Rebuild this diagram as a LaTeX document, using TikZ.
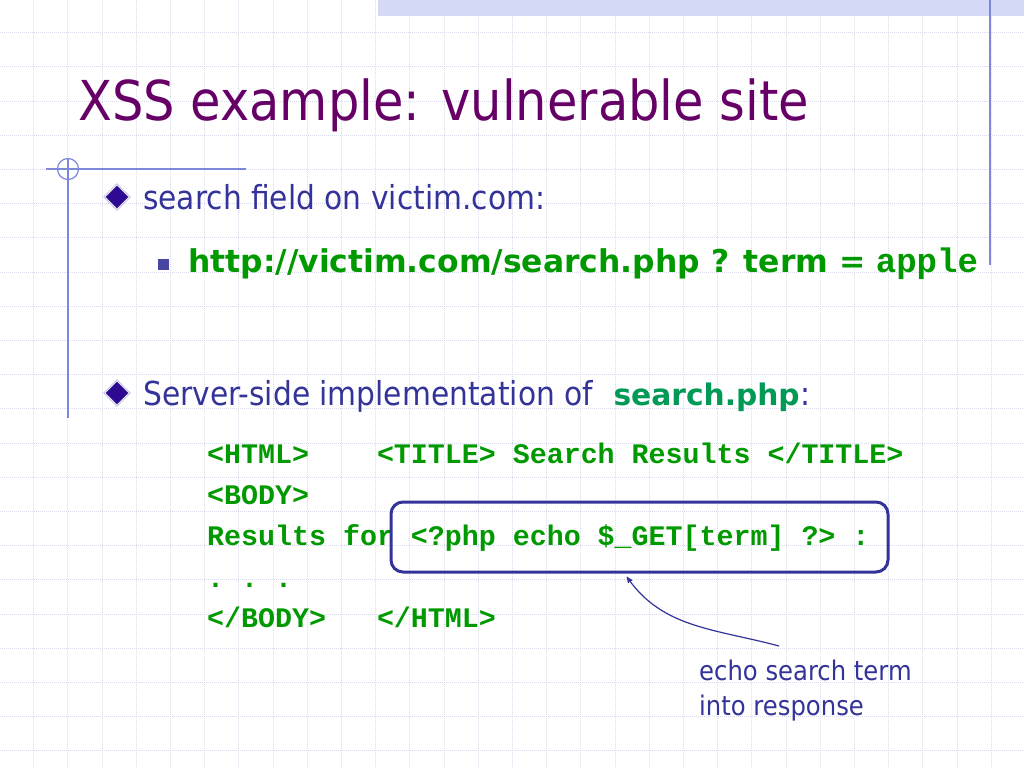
\documentclass[tikz,border=0pt]{standalone}
\usepackage{fontspec}
\setmainfont{DejaVu Sans}
\setmonofont{Liberation Mono}
\newfontfamily\tahoma[FakeStretch=0.9]{DejaVu Sans}
\usetikzlibrary{arrows,shapes.geometric,positioning}

\definecolor{slate}{RGB}{51,51,153}
\definecolor{plum}{RGB}{102,0,102}
\definecolor{codegreen}{RGB}{0,153,0}
\definecolor{phpgreen}{RGB}{0,153,85}
\definecolor{gridcol}{RGB}{218,218,238}
\definecolor{rulecol}{RGB}{125,135,220}
\definecolor{bandcol}{RGB}{212,218,246}
\definecolor{diafill}{RGB}{45,10,145}
\definecolor{diaedge}{RGB}{150,150,205}

\begin{document}
\begin{tikzpicture}[x=1pt,y=-1pt,>=stealth',
	gridline/.style={draw=gridcol, dash pattern=on 1pt off 1pt, line width=0.8pt},
	bodytext/.style={anchor=base west, inner sep=0, text=slate, font=\tahoma\fontsize{33}{33}\selectfont},
	urltext/.style={anchor=base west, inner sep=0, text=codegreen, font=\bfseries\fontsize{31.4}{31.4}\selectfont},
	code/.style={anchor=base west, inner sep=0, text=codegreen, font=\ttfamily\bfseries\fontsize{28.3}{28.3}\selectfont},
	dia/.style={diamond, draw=diaedge, double=white, double distance=0.8pt, fill=diafill, inner sep=0, minimum size=25pt},
	sq/.style={rectangle, fill=slate!90, inner sep=0, minimum size=11pt},
	phpbox/.style={draw=slate, line width=3pt, rounded corners=12pt, minimum width=497pt, minimum height=70pt}]
		\useasboundingbox (0,0) rectangle (1024,768);
		\fill[white] (0,0) rectangle (1024,768);

		% background grid
		\foreach \i in {0,...,29} {
			\draw[gridline] (33.5+34.2*\i,0) -- (33.5+34.2*\i,768);
		}
		\foreach \i in {0,...,21} {
			\draw[gridline] (0,32.6+34.2*\i) -- (1024,32.6+34.2*\i);
		}
		\fill[bandcol] (378,0) rectangle (1024,16);
		\draw[rulecol, line width=1.5pt] (990,0) -- (990,265);
		\draw[rulecol, line width=1.2pt] (46,169) -- (246,169);
		\draw[rulecol, line width=1.2pt] (68,158) -- (68,418);
		\draw[rulecol, line width=1.2pt] (68,169) circle (10.5);

		\node[anchor=base west, inner sep=0, text=plum, font=\tahoma\fontsize{55}{55}\selectfont] (title) at (78,120) {XSS example: vulnerable site};

		\node[dia] (b1) at (117,197) {};
		\node[bodytext] (field) at (143,209) {search field on victim.com:};
		\node[sq] (b2) at (163,264) {};
		\node[urltext] (url) at (188,272) {http://victim.com/search.php ? term =};
		\node[code, font=\ttfamily\bfseries\fontsize{34}{34}\selectfont, xshift=10pt] (term) at (url.base east) {apple};

		\node[dia] (b3) at (117,393) {};
		\node[bodytext] (server) at (143,405) {Server-side implementation of};
		\node[urltext, text=phpgreen, font=\bfseries\fontsize{29.7}{29.7}\selectfont, xshift=20pt] (php) at (server.base east) {search.php};
		\node[bodytext] (colon) at (php.base east) {:};

		\node[code] (l1) at (207,463) {<HTML>~~~~<TITLE> Search Results </TITLE>};
		\node[code] (l2) at (207,504) {<BODY>};
		\node[code] (l3) at (207,545) {Results for <?php echo \$\_GET[term] ?> :};
		\node[code] (l4) at (207,587) {. . .};
		\node[code] (l5) at (207,627) {</BODY>~~~</HTML>};

		\node[phpbox] (box) at (639.5,537) {};
		\node[anchor=base west, inner sep=0, align=left, text=slate, font=\tahoma\fontsize{27}{35}\selectfont] (note) at (699,715) {echo search term\\into response};
		\coordinate (tail) at (779,646);

		\draw[->, slate, line width=1.2pt, shorten >=4pt] (tail) to[out=165,in=-55] ([xshift=-15pt]box.south);
	\end{tikzpicture}
\end{document}
